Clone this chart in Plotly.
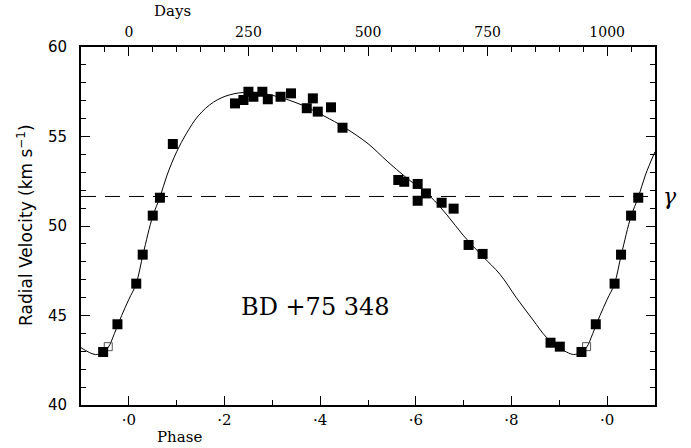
import plotly.graph_objects as go

# ---------------- data ----------------
phase_obs = [0.0155, 0.029, 0.050, 0.065, 0.092, 0.222, 0.2396, 0.250, 0.2604,
             0.2792, 0.2905, 0.3172, 0.339, 0.372, 0.3847, 0.395, 0.4227, 0.4467,
             0.5633, 0.5758, 0.6038, 0.6211, 0.6038, 0.6539, 0.679, 0.7103,
             0.7396, 0.8816, 0.901, 0.9463, 0.9762]
rv_obs = [46.78, 48.40, 50.58, 51.58, 54.58, 56.85, 57.04, 57.50, 57.22,
          57.50, 57.08, 57.22, 57.41, 56.58, 57.13, 56.39, 56.63, 55.49,
          52.57, 52.47, 52.35, 51.82, 51.41, 51.30, 50.97, 48.94,
          48.44, 43.48, 43.26, 42.96, 44.51]

open_phase = [0.957]
open_rv = [43.26]

# orbit curve
curve_phase = [0.000, 0.015, 0.030, 0.050, 0.065, 0.080, 0.100, 0.120, 0.145,
               0.177, 0.210, 0.250, 0.300, 0.360, 0.410, 0.450, 0.500, 0.540,
               0.580, 0.630, 0.665, 0.700, 0.740, 0.776, 0.810, 0.845, 0.873,
               0.900, 0.930, 0.946, 0.957, 0.970, 0.985]
curve_rv = [45.90, 46.75, 48.45, 50.55, 51.60, 52.85, 54.15, 55.15, 56.15,
            56.92, 57.32, 57.47, 57.30, 56.78, 56.12, 55.52, 54.60, 53.62,
            52.70, 51.65, 50.62, 49.45, 48.30, 47.30, 46.00, 44.75, 43.78,
            43.20, 42.82, 42.96, 43.22, 44.00, 45.00]

gamma_velocity = 51.65
period_days = 1000
star_name = "BD +75 348"

phase_ticks = [0, 0.2, 0.4, 0.6, 0.8, 1.0]
phase_ticktext = ["\u00b70", "\u00b72", "\u00b74", "\u00b76", "\u00b78", "\u00b70"]
day_ticks = [0, 250, 500, 750, 1000]
rv_ticks = [40, 45, 50, 55, 60]

# ---------------- phase wrapping (repeat edges of the cycle) ----------------
PH_MIN, PH_MAX = -0.1, 1.1


def wrap(ph, vals, lo=0.07, hi=0.92):
    xs, ys = [], []
    for p, v in zip(ph, vals):
        if p > hi:
            xs.append(p - 1); ys.append(v)
        xs.append(p); ys.append(v)
        if p < lo:
            xs.append(p + 1); ys.append(v)
    order = sorted(range(len(xs)), key=lambda i: xs[i])
    return [xs[i] for i in order], [ys[i] for i in order]


cx, cy = [], []
for p, v in zip(curve_phase, curve_rv):
    for shift in (-1, 0, 1):
        q = p + shift
        if PH_MIN - 1e-9 <= q <= PH_MAX + 1e-9:
            cx.append(q); cy.append(v)
order = sorted(range(len(cx)), key=lambda i: cx[i])
cx = [cx[i] for i in order]; cy = [cy[i] for i in order]

fx, fy = wrap(phase_obs, rv_obs)
ox, oy = wrap(open_phase, open_rv, lo=0.07, hi=0.92)

SERIF = "DejaVu Serif"
SANS = "DejaVu Sans"

fig = go.Figure()
fig.add_trace(go.Scatter(x=cx, y=cy, mode="lines",
                         line=dict(color="black", width=1, shape="spline", smoothing=1.0),
                         hoverinfo="skip", showlegend=False))
fig.add_trace(go.Scatter(x=ox, y=oy, mode="markers",
                         marker=dict(symbol="square-open", size=8, color="#555555",
                                     line=dict(width=1, color="#555555")),
                         showlegend=False))
fig.add_trace(go.Scatter(x=fx, y=fy, mode="markers",
                         marker=dict(symbol="square", size=10, color="black",
                                     line=dict(width=0)),
                         showlegend=False))
# invisible helper so the top (days) axis is drawn
fig.add_trace(go.Scatter(x=day_ticks, y=[gamma_velocity] * len(day_ticks),
                         xaxis="x2", yaxis="y", mode="markers",
                         marker=dict(opacity=0), hoverinfo="skip", showlegend=False))

fig.add_hline(y=gamma_velocity, line=dict(color="black", width=1, dash="15px,9px"))

fig.update_layout(
    width=691, height=448,
    margin=dict(l=81, r=36, t=47, b=43),
    paper_bgcolor="white", plot_bgcolor="white",
    showlegend=False,
    xaxis=dict(range=[PH_MIN, PH_MAX], tickvals=phase_ticks, ticktext=phase_ticktext,
               ticks="inside", ticklen=9, tickwidth=1, tickcolor="black",
               minor=dict(dtick=0.1, tick0=0, ticks="inside", ticklen=5, tickcolor="black"),
               showline=True, linewidth=2, linecolor="black", mirror=True,
               showgrid=False, zeroline=False,
               tickfont=dict(family=SERIF, size=15, color="black"),
               ticklabelstandoff=0),
    xaxis2=dict(range=[PH_MIN * period_days, PH_MAX * period_days], overlaying="x",
                side="top", anchor="y", tickvals=day_ticks,
                ticks="inside", ticklen=9, tickwidth=1, tickcolor="black",
                minor=dict(dtick=50, tick0=0, ticks="inside", ticklen=5, tickcolor="black"),
                showline=False, showgrid=False, zeroline=False,
                tickfont=dict(family=SERIF, size=14, color="black"),
                ticklabelstandoff=6),
    yaxis=dict(range=[40, 60], tickvals=rv_ticks,
               ticks="inside", ticklen=9, tickwidth=1, tickcolor="black",
               minor=dict(dtick=1, tick0=40, ticks="inside", ticklen=5, tickcolor="black"),
               showline=True, linewidth=2, linecolor="black", mirror="ticks",
               showgrid=False, zeroline=False,
               tickfont=dict(family=SANS, size=15, color="black"),
               ticklabelstandoff=9),
    annotations=[
        dict(text="Phase", xref="paper", yref="paper", x=0.172, y=-0.089,
             xanchor="center", yanchor="middle", showarrow=False,
             font=dict(family=SERIF, size=15, color="black")),
        dict(text="Days", xref="paper", yref="paper", x=0.160, y=1.10,
             xanchor="center", yanchor="middle", showarrow=False,
             font=dict(family=SERIF, size=15, color="black")),
        dict(text="Radial Velocity (km s<sup>\u22121</sup>)", xref="paper", yref="paper",
             x=-0.0976, y=0.503, xanchor="center", yanchor="middle", textangle=-90,
             showarrow=False, font=dict(family=SANS, size=17, color="black")),
        dict(text=star_name, xref="paper", yref="paper", x=0.409, y=0.274,
             xanchor="center", yanchor="middle", showarrow=False,
             font=dict(family=SERIF, size=24, color="black")),
        dict(text="<i>\u03b3</i>", xref="paper", y=gamma_velocity, yref="y", x=1.026,
             xanchor="center", yanchor="middle", showarrow=False,
             font=dict(family=SERIF, size=22, color="black")),
    ],
)

fig.write_html("out.html", post_script="document.body.style.margin='0';",
               config={"displayModeBar": False})
